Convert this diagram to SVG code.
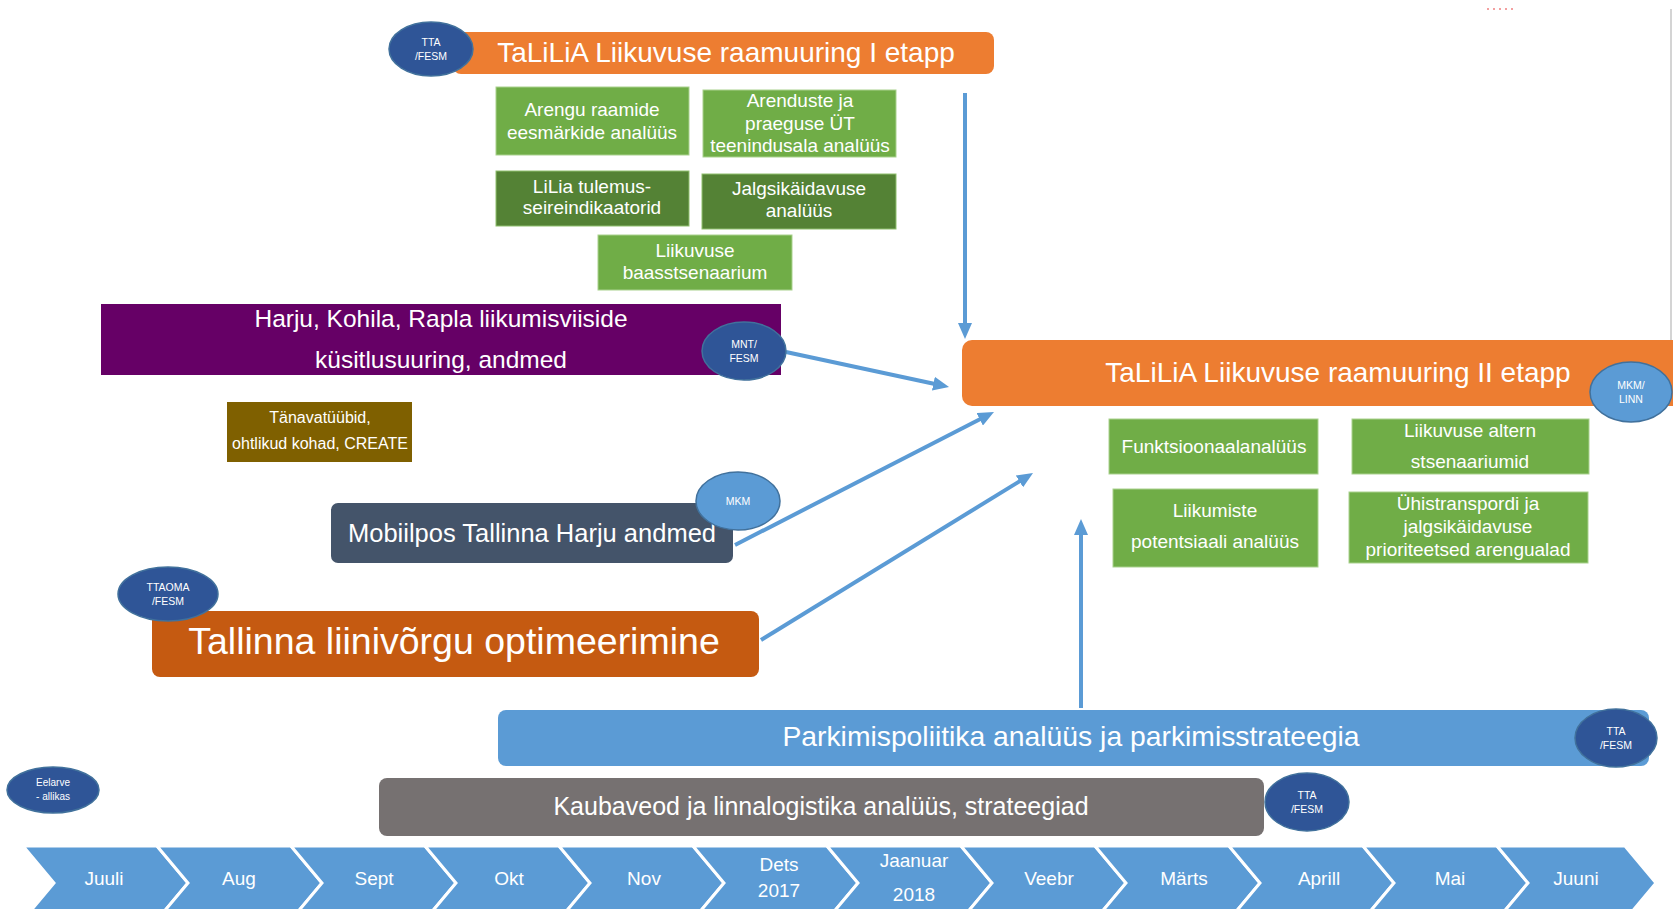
<svg xmlns="http://www.w3.org/2000/svg" width="1673" height="909" viewBox="0 0 1673 909">
<defs>
<style>
text{font-family:"Liberation Sans",Arial,sans-serif;fill:#fff;text-anchor:middle}
.lg{fill:#70AD47;stroke:#A9D18E;stroke-width:1}
.dg{fill:#548235;stroke:#8FBF6E;stroke-width:1}
.db{fill:#2F5597;stroke:#41719C;stroke-width:1.5}
.lb{fill:#5B9BD5;stroke:#41719C;stroke-width:1.5}
.conn{fill:none;stroke:#5B9BD5;stroke-width:4;marker-end:url(#ah)}
.chev{fill:#5B9BD5;stroke:#fff;stroke-width:3;stroke-linejoin:miter}
.g{font-size:19px}
.c{font-size:10.5px}
.m{font-size:19px}
</style>
<marker id="ah" viewBox="0 0 16 14" refX="4" refY="7" markerUnits="userSpaceOnUse" markerWidth="16" markerHeight="14" orient="auto">
<path d="M0,0 L16,7 L0,14 z" fill="#5B9BD5"/>
</marker>
</defs>
<rect width="1673" height="909" fill="#fff"/>
<line x1="1671" y1="9" x2="1671" y2="340" stroke="#d4d4d4" stroke-width="2"/>
<line x1="1487" y1="9" x2="1516" y2="9" stroke="#f3a0a0" stroke-width="2" stroke-dasharray="2 4"/>

<g id="connectors">
<path class="conn" d="M965,93 L965,327"/>
<path class="conn" d="M786,352 L937.3,384.5"/>
<path class="conn" d="M735,545 L983.3,417.5"/>
<path class="conn" d="M761,640 L1022.8,479.3"/>
<path class="conn" d="M1081,708 L1081,531"/>
</g>

<g id="etapp1">
<rect x="453" y="32" width="541" height="42" rx="8" fill="#ED7D31"/>
<text x="726" y="62" font-size="28">TaLiLiA Liikuvuse raamuuring I etapp</text>
</g>
<g id="tta1">
<ellipse class="db" cx="431" cy="49" rx="42" ry="27"/>
<text class="c" x="431" y="46">TTA</text>
<text class="c" x="431" y="60">/FESM</text>
</g>
<g id="arengu">
<rect class="lg" x="496" y="87" width="193" height="68"/>
<text class="g" x="592" y="116">Arengu raamide</text>
<text class="g" x="592" y="139">eesmärkide analüüs</text>
</g>
<g id="arenduste">
<rect class="lg" x="703" y="90" width="193" height="67"/>
<text class="g" x="800" y="107">Arenduste ja</text>
<text class="g" x="800" y="130">praeguse ÜT</text>
<text class="g" x="800" y="152">teenindusala analüüs</text>
</g>
<g id="lilia">
<rect class="dg" x="496" y="171" width="193" height="55"/>
<text class="g" x="592" y="193">LiLia tulemus-</text>
<text class="g" x="592" y="214">seireindikaatorid</text>
</g>
<g id="jalgsi">
<rect class="dg" x="702" y="174" width="194" height="55"/>
<text class="g" x="799" y="195">Jalgsikäidavuse</text>
<text class="g" x="799" y="217">analüüs</text>
</g>
<g id="baas">
<rect class="lg" x="598" y="235" width="194" height="55"/>
<text class="g" x="695" y="257">Liikuvuse</text>
<text class="g" x="695" y="279">baasstsenaarium</text>
</g>
<g id="harju">
<rect x="101" y="304" width="680" height="71" fill="#660066"/>
<text x="441" y="327" font-size="24.5">Harju, Kohila, Rapla liikumisviiside</text>
<text x="441" y="368" font-size="24.5">küsitlusuuring, andmed</text>
</g>
<g id="mnt">
<ellipse class="db" cx="744" cy="351" rx="42" ry="29"/>
<text class="c" x="744" y="348">MNT/</text>
<text class="c" x="744" y="362">FESM</text>
</g>
<g id="tanav">
<rect x="227" y="402" width="185" height="60" fill="#7F6000"/>
<text x="320" y="423" font-size="16">Tänavatüübid,</text>
<text x="320" y="449" font-size="16">ohtlikud kohad, CREATE</text>
</g>
<g id="mobiil">
<rect x="331" y="503" width="402" height="60" rx="7" fill="#44546A"/>
<text x="532" y="542" font-size="25.5">Mobiilpos Tallinna Harju andmed</text>
</g>
<g id="mkm">
<ellipse class="lb" cx="738" cy="501" rx="42" ry="29"/>
<text class="c" x="738" y="505">MKM</text>
</g>
<g id="tallinna">
<rect x="152" y="611" width="607" height="66" rx="8" fill="#C55A11"/>
<text x="454" y="654" font-size="37.5">Tallinna liinivõrgu optimeerimine</text>
</g>
<g id="ttaoma">
<ellipse class="db" cx="168" cy="594" rx="50" ry="27"/>
<text class="c" x="168" y="591">TTAOMA</text>
<text class="c" x="168" y="605">/FESM</text>
</g>
<g id="etapp2">
<rect x="962" y="340" width="730" height="66" rx="10" fill="#ED7D31"/>
<text x="1338" y="382" font-size="28">TaLiLiA Liikuvuse raamuuring II etapp</text>
</g>
<g id="mkmlinn">
<ellipse class="lb" cx="1631" cy="392" rx="41" ry="30"/>
<text class="c" x="1631" y="389">MKM/</text>
<text class="c" x="1631" y="403">LINN</text>
</g>
<g id="funkts">
<rect class="lg" x="1109" y="419" width="209" height="55"/>
<text class="g" x="1214" y="453">Funktsioonaalanalüüs</text>
</g>
<g id="altern">
<rect class="lg" x="1352" y="419" width="237" height="55"/>
<text class="g" x="1470" y="437">Liikuvuse altern</text>
<text class="g" x="1470" y="468">stsenaariumid</text>
</g>
<g id="liikumiste">
<rect class="lg" x="1113" y="489" width="205" height="78"/>
<text class="g" x="1215" y="517">Liikumiste</text>
<text class="g" x="1215" y="548">potentsiaali analüüs</text>
</g>
<g id="yhis">
<rect class="lg" x="1349" y="492" width="239" height="71"/>
<text class="g" x="1468" y="510">Ühistranspordi ja</text>
<text class="g" x="1468" y="533">jalgsikäidavuse</text>
<text class="g" x="1468" y="556">prioriteetsed arengualad</text>
</g>
<g id="parkimis">
<rect x="498" y="710" width="1151" height="56" rx="8" fill="#5B9BD5"/>
<text x="1071" y="746" font-size="28.3">Parkimispoliitika analüüs ja parkimisstrateegia</text>
</g>
<g id="tta2">
<ellipse class="db" cx="1616" cy="738" rx="41" ry="29"/>
<text class="c" x="1616" y="735">TTA</text>
<text class="c" x="1616" y="749">/FESM</text>
</g>
<g id="kauba">
<rect x="379" y="778" width="885" height="58" rx="8" fill="#767171"/>
<text x="821" y="815" font-size="25">Kaubaveod ja linnalogistika analüüs, strateegiad</text>
</g>
<g id="tta3">
<ellipse class="db" cx="1307" cy="802" rx="42" ry="29"/>
<text class="c" x="1307" y="799">TTA</text>
<text class="c" x="1307" y="813">/FESM</text>
</g>
<g id="eelarve">
<ellipse class="db" cx="53" cy="790" rx="46" ry="23"/>
<text x="53" y="786" font-size="10">Eelarve</text>
<text x="53" y="800" font-size="10">- allikas</text>
</g>

<g id="timeline">
<polygon class="chev" points="23,846 157,846 188,883 157,920 23,920 54,883"/>
<polygon class="chev" points="157,846 291,846 322,883 291,920 157,920 188,883"/>
<polygon class="chev" points="291,846 425,846 456,883 425,920 291,920 322,883"/>
<polygon class="chev" points="425,846 559,846 590,883 559,920 425,920 456,883"/>
<polygon class="chev" points="559,846 693,846 724,883 693,920 559,920 590,883"/>
<polygon class="chev" points="693,846 827,846 858,883 827,920 693,920 724,883"/>
<polygon class="chev" points="827,846 961,846 992,883 961,920 827,920 858,883"/>
<polygon class="chev" points="961,846 1095,846 1126,883 1095,920 961,920 992,883"/>
<polygon class="chev" points="1095,846 1229,846 1260,883 1229,920 1095,920 1126,883"/>
<polygon class="chev" points="1229,846 1363,846 1394,883 1363,920 1229,920 1260,883"/>
<polygon class="chev" points="1363,846 1497,846 1528,883 1497,920 1363,920 1394,883"/>
<polygon class="chev" points="1497,846 1625,846 1656,883 1625,920 1497,920 1528,883"/>
<text class="m" x="104" y="885">Juuli</text>
<text class="m" x="239" y="885">Aug</text>
<text class="m" x="374" y="885">Sept</text>
<text class="m" x="509" y="885">Okt</text>
<text class="m" x="644" y="885">Nov</text>
<text class="m" x="779" y="871">Dets</text>
<text class="m" x="779" y="897">2017</text>
<text class="m" x="914" y="867">Jaanuar</text>
<text class="m" x="914" y="901">2018</text>
<text class="m" x="1049" y="885">Veebr</text>
<text class="m" x="1184" y="885">Märts</text>
<text class="m" x="1319" y="885">Aprill</text>
<text class="m" x="1450" y="885">Mai</text>
<text class="m" x="1576" y="885">Juuni</text>
</g>
</svg>
